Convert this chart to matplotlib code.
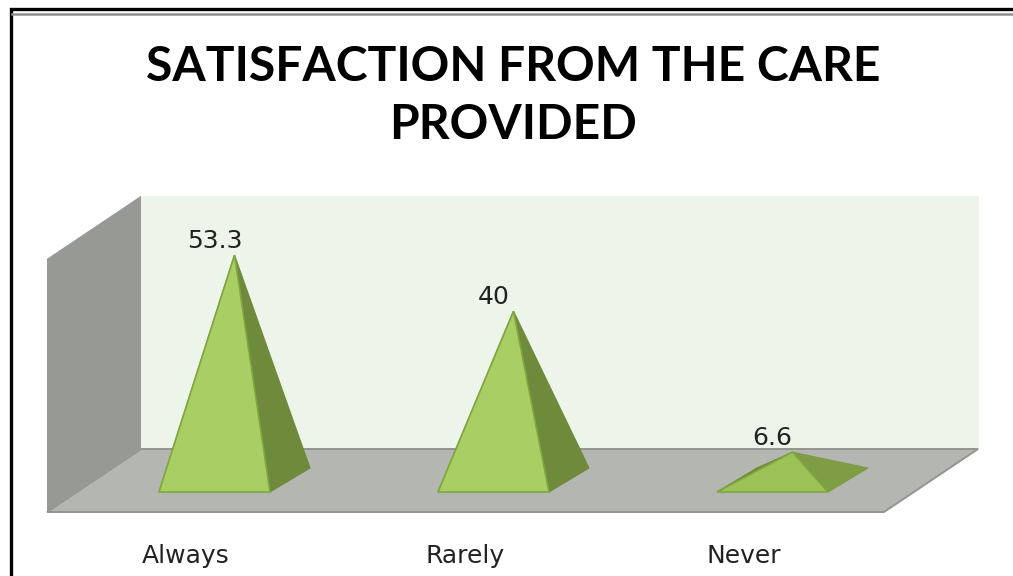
import matplotlib
matplotlib.use("Agg")
import matplotlib.pyplot as plt
from matplotlib.patches import Polygon

title = "SATISFACTION FROM THE CARE\nPROVIDED"
categories = ["Always", "Rarely", "Never"]
values = [53.3, 40, 6.6]
value_labels = ["53.3", "40", "6.6"]
axis_max = 60

W, H = 1013, 576
fig = plt.figure(figsize=(W / 100, H / 100), dpi=100, facecolor="white")
ax = fig.add_axes([0, 0, 1, 1])

# category scale: 279 px per category, first centre at 234.5 px; value scale: 4.22 px per unit
PX = 279.0
PY = 4.22
X0, Y0 = 234.5, 480.0
ax.set_xlim(-X0 / PX, (W - X0) / PX)
ax.set_ylim((Y0 - H) / PY, Y0 / PY)
ax.axis("off")

dx = lambda p: p / PX
dy = lambda p: p / PY

# 3-D box: full depth offset, in data units
DEPTH_X, DEPTH_Y = dx(94), dy(63)
xl = dx(47 - X0)
xr = dx(884 - X0)
yf = dy(Y0 - 512)
yb = yf + DEPTH_Y
ytop = yb + axis_max

def poly(pts, fc, ec="none", lw=0.0, z=1):
    ax.add_patch(Polygon(pts, closed=True, facecolor=fc, edgecolor=ec, linewidth=lw,
                         joinstyle="miter", zorder=z))

# back wall, floor, side wall
poly([(xl + DEPTH_X, yb), (xr + DEPTH_X + dx(1), yb), (xr + DEPTH_X + dx(1), ytop), (xl + DEPTH_X, ytop)], "#EDF4EA")
poly([(xl, yf), (xr, yf), (xr + DEPTH_X, yb), (xl + DEPTH_X, yb)], "#B4B6B1", "#93958F", 1.4, 2)
poly([(xl, yf), (xl + DEPTH_X, yb), (xl + DEPTH_X, ytop), (xl, ytop - DEPTH_Y)], "#979A94", z=3)

# pyramids
half_w = dx(55.5)
half_dx, half_dy = dx(20), dy(12)
front_cols = ["#A9CE64", "#A9CE64", "#9CC257"]
side_cols = ["#6F8A3B", "#6F8A3B", "#7E9D45"]
for i, (cat, v, lab) in enumerate(zip(categories, values, value_labels)):
    apex = (i, v)
    fl = (i - half_w - half_dx, -half_dy)
    fr = (i + half_w - half_dx, -half_dy)
    bl = (i - half_w + half_dx, half_dy)
    br = (i + half_w + half_dx, half_dy)
    poly([fl, bl, apex], "#6F8A3B", "#6F8A3B", 0.8, 4)
    poly([fr, br, apex], side_cols[i], side_cols[i], 0.8, 5)
    poly([fl, fr, apex], front_cols[i], "#7FA63F", 1.2, 6)
    ax.text(i - dx(20), v + dy(2), lab, ha="center", va="bottom", fontsize=18,
            color="#222222", family="DejaVu Sans", zorder=7)
    ax.text(i - dx(48.5), dy(Y0 - 556), cat, ha="center", va="center", fontsize=18,
            color="#222222", family="DejaVu Sans", zorder=7)

ax.text(dx(513 - X0), dy(Y0 - 96), title, ha="center", va="center", fontsize=34.6,
        fontweight="bold", family="Lato", color="black", linespacing=1.4, zorder=7)

# picture frame
ax.plot([dx(11 - X0), dx(11 - X0), dx(W - X0)], [dy(Y0 - H), dy(Y0 - 9), dy(Y0 - 9)],
        color="black", lw=2.4, solid_joinstyle="miter", zorder=8)
ax.plot([dx(12 - X0), dx(W - X0)], [dy(Y0 - 14), dy(Y0 - 14)], color="#8F8F8F", lw=1.8, zorder=8)

fig.savefig("out.png", dpi=100)
